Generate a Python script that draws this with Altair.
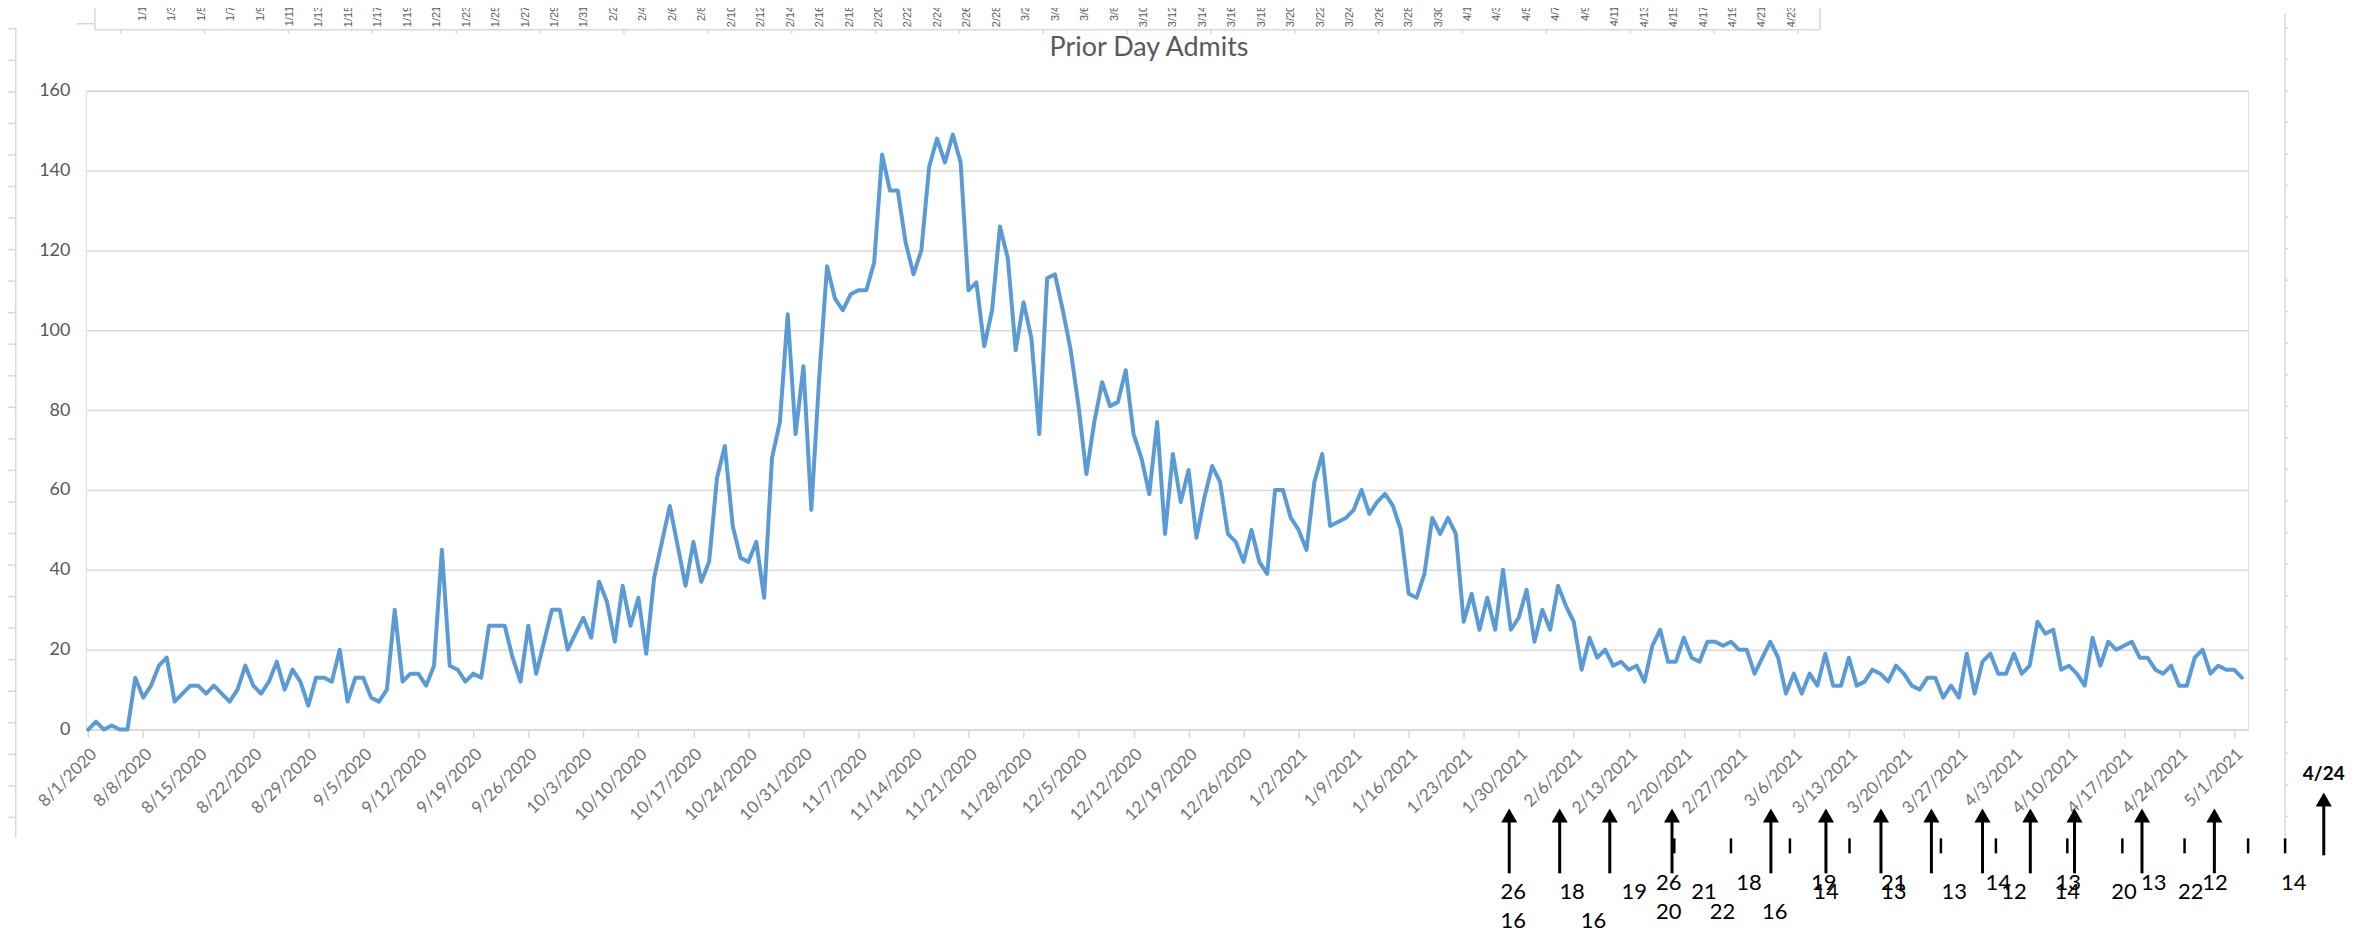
import altair as alt
import pandas as pd

# ---------------- data ----------------
start_date = "2020-08-01"
admits = [
    0, 2, 0, 1, 0, 0, 13, 8, 11, 16, 18, 7, 9, 11, 11, 9, 11, 9, 7, 10,
    16, 11, 9, 12, 17, 10, 15, 12, 6, 13, 13, 12, 20, 7, 13, 13, 8, 7, 10, 30,
    12, 14, 14, 11, 16, 45, 16, 15, 12, 14, 13, 26, 26, 26, 18, 12, 26, 14, 22, 30,
    30, 20, 24, 28, 23, 37, 32, 22, 36, 26, 33, 19, 38, 47, 56, 46, 36, 47, 37, 42,
    63, 71, 51, 43, 42, 47, 33, 68, 77, 104, 74, 91, 55, 88, 116, 108, 105, 109, 110, 110,
    117, 144, 135, 135, 122, 114, 120, 141, 148, 142, 149, 142, 110, 112, 96, 105, 126, 118, 95, 107,
    98, 74, 113, 114, 105, 95, 81, 64, 77, 87, 81, 82, 90, 74, 68, 59, 77, 49, 69, 57,
    65, 48, 58, 66, 62, 49, 47, 42, 50, 42, 39, 60, 60, 53, 50, 45, 62, 69, 51, 52,
    53, 55, 60, 54, 57, 59, 56, 50, 34, 33, 39, 53, 49, 53, 49, 27, 34, 25, 33, 25,
    40, 25, 28, 35, 22, 30, 25, 36, 31, 27, 15, 23, 18, 20, 16, 17, 15, 16, 12, 21,
    25, 17, 17, 23, 18, 17, 22, 22, 21, 22, 20, 20, 14, 18, 22, 18, 9, 14, 9, 14,
    11, 19, 11, 11, 18, 11, 12, 15, 14, 12, 16, 14, 11, 10, 13, 13, 8, 11, 8, 19,
    9, 17, 19, 14, 14, 19, 14, 16, 27, 24, 25, 15, 16, 14, 11, 23, 16, 22, 20, 21,
    22, 18, 18, 15, 14, 16, 11, 11, 18, 20, 14, 16, 15, 15, 13,
]
dates = pd.date_range(start_date, periods=len(admits), freq="D").strftime("%Y-%m-%d").tolist()
chart_title = "Prior Day Admits"

# weekly x-axis tick dates
week_ticks = pd.date_range("2020-08-01", "2021-05-01", freq="7D")

# top strip (clipped axis of another chart): labels every 2 days
strip_dates = pd.date_range("2021-01-01", "2021-04-23", freq="2D")
strip_labels = [f"{d.month}/{d.day}" for d in strip_dates]

# annotation overlay (arrows, markers and numbers below the axis)
arrow_dates = ["2021-01-28T19:00:00Z", "2021-02-04T05:00:00Z", "2021-02-10T14:00:00Z",
               "2021-02-18T12:00:00Z", "2021-03-03T02:00:00Z", "2021-03-10T02:00:00Z",
               "2021-03-17T02:00:00Z", "2021-03-23T12:00:00Z", "2021-03-30T00:00:00Z",
               "2021-04-05T02:00:00Z", "2021-04-10T17:00:00Z", "2021-04-19T07:00:00Z",
               "2021-04-28T12:00:00Z"]
marker_dates = ["2021-02-18T19:00:00Z", "2021-02-26T00:00:00Z", "2021-03-05T12:00:00Z",
                "2021-03-13T02:00:00Z", "2021-03-24T17:00:00Z", "2021-03-31T17:00:00Z",
                "2021-04-09T19:00:00Z", "2021-04-16T19:00:00Z", "2021-04-24T17:00:00Z",
                "2021-05-02T19:00:00Z", "2021-05-07T12:00:00Z"]
row_u_labels = ["26", "18", "19", "21", "14", "13", "13", "12", "14"]
row_u_dates = ["2021-02-18T02:00:00Z", "2021-02-28T07:00:00Z", "2021-03-09T19:00:00Z",
               "2021-03-18T17:00:00Z", "2021-04-01T00:00:00Z", "2021-04-09T22:00:00Z",
               "2021-04-20T19:00:00Z", "2021-04-28T14:00:00Z", "2021-05-08T14:00:00Z"]
row_a_labels = ["26", "18", "19", "21", "14", "13", "13", "12", "14", "20", "22"]
row_a_dates = ["2021-01-29T07:00:00Z", "2021-02-05T19:00:00Z", "2021-02-13T17:00:00Z",
               "2021-02-22T14:00:00Z", "2021-03-10T02:00:00Z", "2021-03-18T17:00:00Z",
               "2021-03-26T10:00:00Z", "2021-04-03T00:00:00Z", "2021-04-09T19:00:00Z",
               "2021-04-17T00:00:00Z", "2021-04-25T12:00:00Z"]
row_b_labels = ["20", "22", "16"]
row_b_dates = ["2021-02-18T02:00:00Z", "2021-02-24T22:00:00Z", "2021-03-03T14:00:00Z"]
row_c_labels = ["16", "16"]
row_c_dates = ["2021-01-29T07:00:00Z", "2021-02-08T12:00:00Z"]
last_arrow_date = ["2021-05-12T10:00:00Z"]
last_arrow_label = ["4/24"]

# ---------------- helpers ----------------
def ms(s):
    return int(pd.Timestamp(s).value // 10**6)

W, H = 2166, 640
GRAY = "#595959"
XGRAY = "#737373"
LIGHT = "#d9d9d9"
BLUE = "#5b9bd5"

x_main = alt.X(
    "date:T",
    scale=alt.Scale(type="utc", domain=[ms("2020-07-31T17:00"), ms("2021-05-02T19:12")]),
    axis=alt.Axis(
        values=[ms(t) for t in week_ticks],
        labelExpr="utcFormat(datum.value, '%-m/%-d/%Y')",
        labelAngle=-45, labelFont="Lato", labelFontSize=17, labelColor=XGRAY,
        labelPadding=8, labelOverlap=False, labelBound=False, labelFlush=False,
        tickColor=LIGHT, tickSize=8, tickWidth=1.5, domainColor=LIGHT, domainWidth=1.5,
        grid=False, title=None,
    ),
)
y_main = alt.Y(
    "admits:Q",
    scale=alt.Scale(domain=[0, 160], nice=False),
    axis=alt.Axis(
        values=list(range(0, 161, 20)), grid=True, gridColor=LIGHT, gridWidth=1.5,
        domain=False, ticks=False, tickSize=0, labelFont="Lato", labelFontSize=18,
        labelColor=GRAY, labelPadding=16, title=None,
    ),
)

df = pd.DataFrame({"date": dates, "admits": admits})
line = alt.Chart(df).mark_line(color=BLUE, strokeWidth=4, strokeJoin="round",
                               strokeCap="round").encode(x=x_main, y=y_main)

arrows_df = pd.DataFrame({"date": arrow_dates})
arrow_lines = alt.Chart(arrows_df).mark_rule(color="black", strokeWidth=3).encode(
    x="date:T", y=alt.value(727), y2=alt.value(784))
arrow_heads = alt.Chart(arrows_df).mark_point(
    shape="triangle-up", size=260, filled=True, color="black", opacity=1, strokeWidth=0
).encode(x="date:T", y=alt.value(726))

markers = alt.Chart(pd.DataFrame({"date": marker_dates})).mark_rule(
    color="black", strokeWidth=2.5).encode(x="date:T", y=alt.value(749), y2=alt.value(764))

def num_layer(dts, labels, ypix):
    d = pd.DataFrame({"date": dts, "label": labels})
    return alt.Chart(d).mark_text(font="Lato", fontSize=22, color="black",
                                  align="center", baseline="middle").encode(
        x="date:T", text="label:N", y=alt.value(ypix))

last_df = pd.DataFrame({"date": last_arrow_date, "label": last_arrow_label})
last_line = alt.Chart(last_df).mark_rule(color="black", strokeWidth=3).encode(
    x="date:T", y=alt.value(711), y2=alt.value(766))
last_head = alt.Chart(last_df).mark_point(
    shape="triangle-up", size=260, filled=True, color="black", opacity=1, strokeWidth=0
).encode(x="date:T", y=alt.value(710))
last_text = alt.Chart(last_df).mark_text(font="Lato", fontSize=19, fontWeight="bold",
                                         color="black", align="center", baseline="middle").encode(
    x="date:T", text="label:N", y=alt.value(685))

main = alt.layer(
    line, arrow_lines, arrow_heads, markers,
    num_layer(row_u_dates, row_u_labels, 794),
    num_layer(row_a_dates, row_a_labels, 803),
    num_layer(row_b_dates, row_b_labels, 823),
    num_layer(row_c_dates, row_c_labels, 832),
    last_line, last_head, last_text,
)

# top strip labels (other chart's axis, partially cut off)
strip_df = pd.DataFrame({"d": strip_dates.strftime("%Y-%m-%d"), "label": strip_labels})
strip = alt.Chart(strip_df).mark_text(
    font="Liberation Sans", fontSize=11, color=GRAY, angle=270, align="right", baseline="middle"
).encode(
    x=alt.X("d:T", scale=alt.Scale(type="utc", domain=[ms("2020-12-28T03:16"), ms("2021-05-23T23:40")]),
            axis=None),
    text="label:N", y=alt.value(-85),
)

# chart title as a text mark (the strip above the plot would push a normal title off-page)
title_mark = alt.Chart(pd.DataFrame({"t": [chart_title]})).mark_text(
    font="Lato", fontSize=27, color=GRAY, align="center", baseline="middle"
).encode(text="t:N", x=alt.value(1065), y=alt.value(-43))

# frame decorations (borders and their small ticks), in plot pixels
segs = []
segs.append((-70.3, -70.3, -63, 748))                      # left border
segs += [(-79, -70.3, -62 + 31.6 * k, -62 + 31.6 * k) for k in range(26)]
segs.append((2203, 2203, -77, 748))                        # right border
segs += [(2203, 2206, -63 + 31.6 * k, -63 + 31.6 * k) for k in range(26)]
segs.append((9, 1737, -61, -61))                           # strip box bottom
segs.append((9, 9, -95, -61))
segs.append((1737, 1737, -95, -61))
segs += [(35 + 84 * k, 35 + 84 * k, -61, -57) for k in range(21)]
segs += [(-9, 9, -86, -86), (-9, 9, -67, -67)]
deco_df = pd.DataFrame(segs, columns=["x", "x2", "y", "y2"])
deco = alt.Chart(deco_df).mark_rule(color=LIGHT, strokeWidth=1.5).encode(
    x=alt.X("x:Q", scale=None, axis=None), x2="x2:Q",
    y=alt.Y("y:Q", scale=None, axis=None), y2="y2:Q",
)

chart = alt.layer(main, strip, deco, title_mark).resolve_scale(
    x="independent", y="independent"
).properties(
    width=W, height=H,
    padding={"left": 78, "top": 82, "right": 100, "bottom": 206},
    autosize=alt.AutoSizeParams(type="none"),
).configure_view(stroke=None).configure(background="white")

chart.save("out.html", embed_options={"renderer": "svg", "actions": False})
